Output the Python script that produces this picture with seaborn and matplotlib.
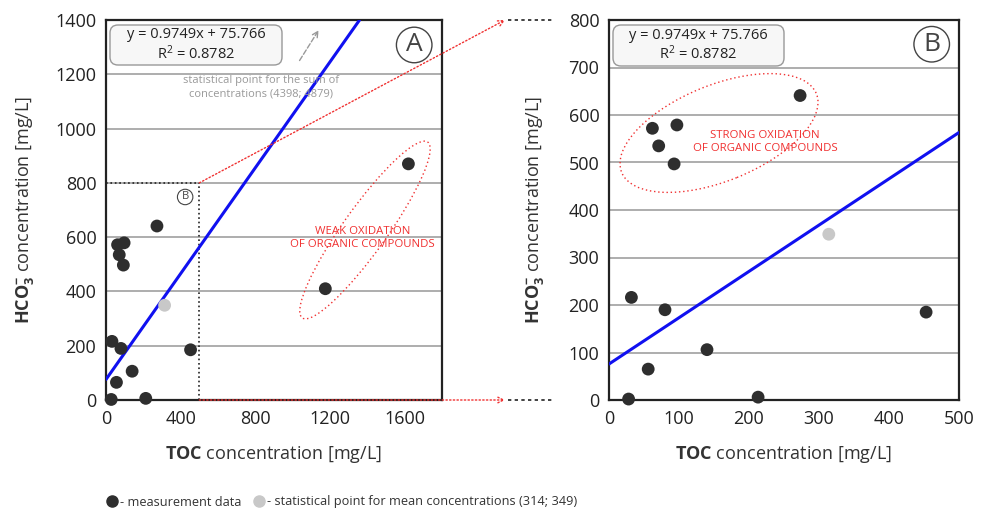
import numpy as np
import pandas as pd
import matplotlib.pyplot as plt
import seaborn as sns
from matplotlib.patches import Ellipse, FancyBboxPatch
from matplotlib.transforms import Affine2D
from matplotlib.lines import Line2D

# measurement data (TOC vs HCO3-)
toc = [28, 32, 56, 62, 71, 80, 93, 97, 140, 213, 273, 453, 1175, 1620]
hco3 = [2, 216, 65, 572, 535, 190, 497, 579, 106, 6, 641, 185, 410, 870]
# statistical point for mean concentrations
mean_pt = (314, 349)
# regression
slope, intercept = 0.9749, 75.766
eq_text = "y = 0.9749x + 75.766\nR$^{2}$ = 0.8782"
# zoom window shown in panel B
zoom_x, zoom_y = 500, 800

df = pd.DataFrame({"TOC": toc, "HCO3": hco3})
df_mean = pd.DataFrame({"TOC": [mean_pt[0]], "HCO3": [mean_pt[1]]})

sns.set_style("white")
plt.rcParams["font.family"] = ["Open Sans", "DejaVu Sans"]
plt.rcParams["mathtext.fontset"] = "custom"
plt.rcParams["mathtext.rm"] = "Open Sans"
plt.rcParams["mathtext.bf"] = "Open Sans:bold"
plt.rcParams["mathtext.it"] = "Open Sans:italic"

fig = plt.figure(figsize=(9.87, 5.12), dpi=100)
W, H = 987, 512
ax1 = fig.add_axes([106 / W, 112 / H, 336 / W, 380 / H])
ax2 = fig.add_axes([609 / W, 112 / H, 350 / W, 380 / H])

dark = "#2e2e2e"
light = "#c8c8c8"
red = "#f03030"


def px(ax, axw, axh):
    # transform using pixel offsets from the lower-left corner of the axes
    return Affine2D().scale(1 / axw, 1 / axh) + ax.transAxes


def style_axes(ax, xlim, ylim, xticks, yticks, ypad):
    ax.set_xlim(*xlim)
    ax.set_ylim(*ylim)
    ax.set_xticks(xticks)
    ax.set_yticks(yticks)
    ax.yaxis.grid(True, color="#a0a0a0", lw=1.2)
    ax.xaxis.grid(False)
    ax.set_axisbelow(True)
    for s in ax.spines.values():
        s.set_color("#222222")
        s.set_linewidth(1.6)
    ax.tick_params(axis="both", direction="out", length=4, width=1, color="#444444",
                   labelsize=13, labelcolor="#222222", pad=3)
    ax.set_xlabel(r"$\mathbf{TOC}$ concentration [mg/L]", fontsize=13, color="#333333", labelpad=12)
    ax.set_ylabel(r"$\mathbf{HCO_3^{-}}$ concentration [mg/L]", fontsize=13, color="#333333",
                  labelpad=ypad)


def draw_points(ax):
    sns.scatterplot(data=df, x="TOC", y="HCO3", ax=ax, color=dark, s=85,
                    edgecolor="none", zorder=4, clip_on=False)
    sns.scatterplot(data=df_mean, x="TOC", y="HCO3", ax=ax, color=light, s=85,
                    edgecolor="none", zorder=4)
    ax.axline((0, intercept), slope=slope, color="#1010f0", lw=2.2, zorder=3)


def pixel_ellipse(ax, cx, cy, w, h, angle, axw, axh):
    e = Ellipse((cx, cy), w, h, angle=angle, fill=False, edgecolor=red,
                lw=1, linestyle=(0, (1, 2)), transform=px(ax, axw, axh), zorder=2)
    ax.add_patch(e)


def eq_box(ax, x0, y0, w, h, axw, axh):
    tr = px(ax, axw, axh)
    box = FancyBboxPatch((x0, y0), w, h, boxstyle="round,pad=0,rounding_size=8",
                         fc="#f7f7f7", ec="#999999", lw=1, transform=tr, zorder=5)
    ax.add_patch(box)
    ax.text(x0 + w / 2, y0 + h / 2, eq_text, ha="center", va="center", fontsize=10.5,
            color="#222222", linespacing=1.1, transform=tr, zorder=6)


# ---- panel A
draw_points(ax1)
style_axes(ax1, (0, 1800), (0, 1400), [0, 400, 800, 1200, 1600], range(0, 1401, 200), 14)
ax1.plot([zoom_x, zoom_x], [0, zoom_y], color="#222222", ls=":", lw=1.2, zorder=2)
ax1.plot([0, zoom_x], [zoom_y, zoom_y], color="#222222", ls=":", lw=1.2, zorder=2)
eq_box(ax1, 4, 335, 172, 40, 336, 380)
ax1.annotate("", xy=(1147, 1371), xytext=(1029, 1242),
             arrowprops=dict(arrowstyle="->", color="#999999", lw=1, ls="--"))
ax1.text(831, 1153, "statistical point for the sum of\nconcentrations (4398; 4879)",
         ha="center", va="center", fontsize=8, color="#999999", linespacing=1.3)
ax1.text(1651, 1308, "A", ha="center", va="center", fontsize=19, color="#444444",
         bbox=dict(boxstyle="circle,pad=0.2", fc="white", ec="#444444", lw=1), zorder=6)
ax1.text(424, 748, "B", ha="center", va="center", fontsize=8, color="#444444",
         bbox=dict(boxstyle="circle,pad=0.2", fc="white", ec="#444444", lw=0.8), zorder=6)
pixel_ellipse(ax1, 259, 170, 216, 44, 54.5, 336, 380)
ax1.text(1373, 597, "WEAK OXIDATION\nOF ORGANIC COMPOUNDS", ha="center", va="center",
         fontsize=8.2, color=red, linespacing=1.3)

# ---- panel B
draw_points(ax2)
style_axes(ax2, (0, zoom_x), (0, zoom_y), range(0, 501, 100), range(0, 801, 100), 16)
eq_box(ax2, 4, 334, 171, 41, 350, 380)
ax2.text(461, 749, "B", ha="center", va="center", fontsize=19, color="#444444",
         bbox=dict(boxstyle="circle,pad=0.2", fc="white", ec="#444444", lw=1), zorder=6)
pixel_ellipse(ax2, 110, 267, 210, 96, 22, 350, 380)
ax2.text(223, 543, "STRONG OXIDATION\nOF ORGANIC COMPOUNDS", ha="center", va="center",
         fontsize=8.2, color=red, linespacing=1.3)

# ---- connectors between panels
tip_x = 505 / W
top_y = 1 - 20 / H
bot_y = 112 / H
for ypos, yfig in [(zoom_y, top_y), (0, bot_y)]:
    ax1.annotate("", xy=(tip_x, yfig), xycoords="figure fraction",
                 xytext=(zoom_x, ypos), textcoords="data",
                 arrowprops=dict(arrowstyle="->", color=red, lw=1, ls=":",
                                 shrinkA=0, shrinkB=0), annotation_clip=False)
    fig.add_artist(Line2D([tip_x + 3 / W, 553 / W], [yfig, yfig], transform=fig.transFigure,
                          color="#222222", lw=1.2, ls=(0, (2, 2))))

# ---- legend
handles = [
    Line2D([], [], marker="o", ls="none", color=dark, markersize=8),
    Line2D([], [], marker="o", ls="none", color=light, markersize=8),
]
labels = ["- measurement data", "- statistical point for mean concentrations (314; 349)"]
fig.legend(handles, labels, loc="center left", bbox_to_anchor=(94 / W, 1 - 502 / H),
           ncol=2, frameon=False, fontsize=9.15, handletextpad=0.15, columnspacing=0.9,
           handlelength=1.0, labelcolor="#333333")

fig.savefig("out.png", dpi=100)
